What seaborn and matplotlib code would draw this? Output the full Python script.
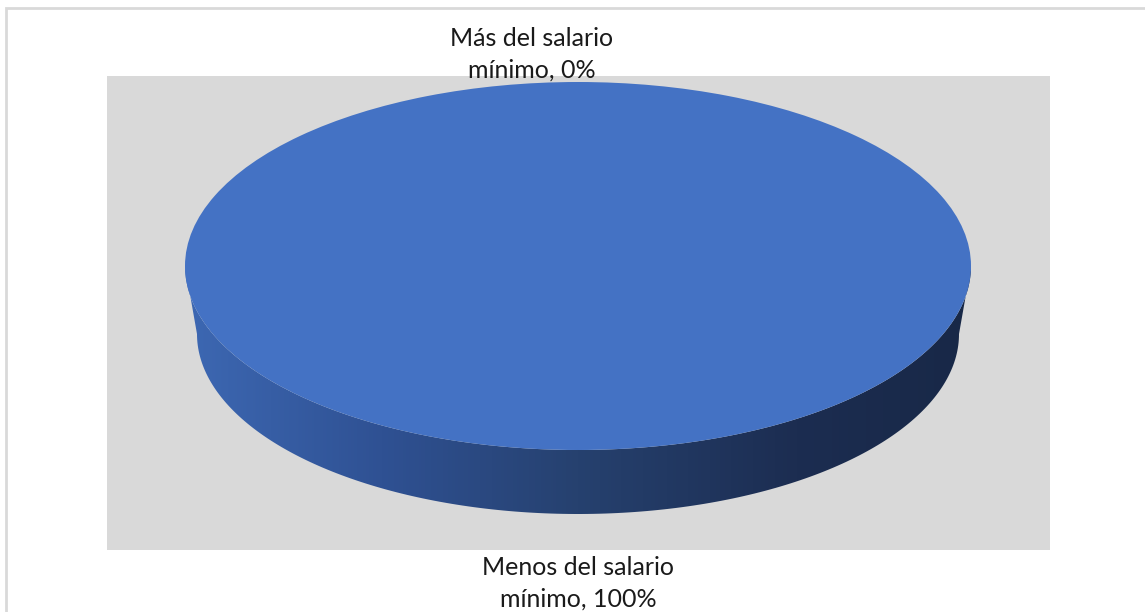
import numpy as np
import matplotlib
matplotlib.use("Agg")
import matplotlib.pyplot as plt
import seaborn as sns
from matplotlib.patches import Rectangle, Polygon
from matplotlib.transforms import Affine2D
from matplotlib.colors import LinearSegmentedColormap

# Salary distribution of respondents
categories = ["Más del salario mínimo", "Menos del salario mínimo"]
shares = [0, 100]

sns.set_theme(style="white")
plt.rcParams["font.family"] = ["Lato", "DejaVu Sans"]

W, H = 1145, 612
fig = plt.figure(figsize=(W / 100, H / 100), dpi=100)
fig.patch.set_facecolor("white")

# Pixel-space axes covering the whole canvas
ax = fig.add_axes([0, 0, 1, 1])

# Outer chart border and grey plot area
ax.add_patch(Rectangle((6, 8), W + 40, H + 40, facecolor="white", edgecolor="#d9d9d9", lw=2, zorder=0))
ax.add_patch(Rectangle((107, 76), 943, 474, facecolor="#d9d9d9", edgecolor="none", zorder=1))

# Pie geometry (top face and lower rim of the disc)
cx, cy = 578, 266
a_top, b_top = 393, 184
cy_bot, a_bot, b_bot = 334, 381, 180

# Draw the pie slices from the data, then map the unit circle onto the tilted top face
wedges, _ = ax.pie(shares, startangle=90, counterclock=False, radius=1, center=(0, 0),
                   colors=["#4472c4", "#4472c4"], wedgeprops=dict(linewidth=0))
face = Affine2D().scale(a_top, -b_top).translate(cx, cy) + ax.transData
for w in wedges:
    w.set_transform(face)
    w.set_zorder(4)

# Side wall of the disc with a horizontal shading gradient
t = np.linspace(np.pi, 2 * np.pi, 200)
upper = np.column_stack([cx + a_top * np.cos(t), cy - b_top * np.sin(t)])
lower = np.column_stack([cx + a_bot * np.cos(t[::-1]), cy_bot - b_bot * np.sin(t[::-1])])
side = Polygon(np.vstack([upper, lower]), closed=True, facecolor="none", edgecolor="none")
ax.add_patch(side)
shade = LinearSegmentedColormap.from_list(
    "rim", [(0.0, "#3d68b3"), (0.25, "#2f5193"), (0.5, "#26416f"),
            (0.78, "#1c2d51"), (1.0, "#182847")])
grad = np.linspace(0, 1, 512)[None, :]
im = ax.imshow(grad, cmap=shade, aspect="auto",
               extent=[cx - a_top, cx + a_top, cy_bot + b_bot + 2, cy - 2], zorder=3)
im.set_clip_path(side)

# Data labels (baseline refers to the last line)
ax.text(532, 78, f"{categories[0][:15]}\n{categories[0][16:]}, {shares[0]}%",
        ha="center", va="baseline", fontsize=18, color="#1a1a1a", linespacing=1.46, zorder=6)
ax.text(578, 607, f"{categories[1][:17]}\n{categories[1][18:]}, {shares[1]}%",
        ha="center", va="baseline", fontsize=18, color="#1a1a1a", linespacing=1.46, zorder=6)

ax.set_xlim(0, W)
ax.set_ylim(H, 0)
ax.set_aspect("auto")
ax.axis("off")

fig.savefig("out.png", dpi=100)
